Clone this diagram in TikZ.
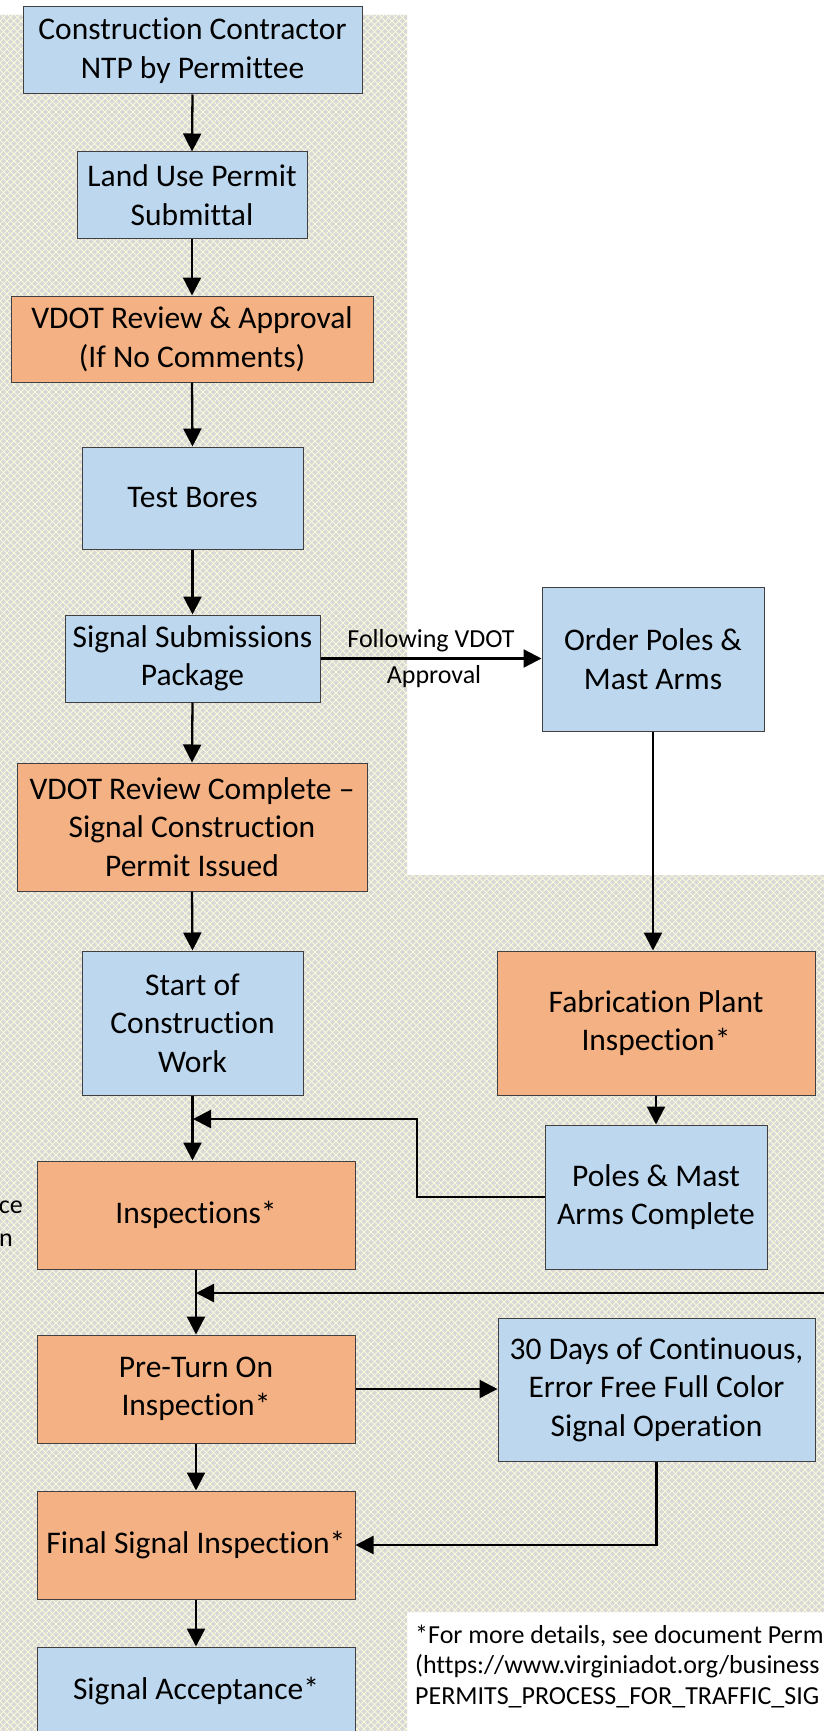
\documentclass[tikz,border=0pt]{standalone}
\usepackage{fontspec}
\setmainfont{Carlito}[Ligatures={NoCommon}]
\usetikzlibrary{arrows.meta,calc}
\definecolor{boxblue}{RGB}{189,215,238}
\definecolor{boxorange}{RGB}{244,177,131}
\definecolor{patgray}{RGB}{216,216,216}
\definecolor{patline}{RGB}{250,250,218}
\definecolor{boxedge}{RGB}{64,64,64}
\tikzset{
  box/.style={draw=boxedge, line width=1pt, align=center, inner sep=0pt, font=\fontsize{31.5}{38.5}\selectfont},
  bluebox/.style={box, fill=boxblue},
  orangebox/.style={box, fill=boxorange},
  arr/.style={line width=2.3pt, -{Triangle[length=18pt,width=18pt]}},
  conn/.style={line width=2.3pt},
  lbl/.style={inner sep=0pt, font=\fontsize{26}{32}\selectfont},
  patstroke/.style={draw=patline, line width=0.9pt},
}
\newcommand{\mybox}[7]{\node[#1, minimum width={#5-#3}, minimum height={#6-#4}] (#2) at ({(#3+#5)/2},{(#4+#6)/2}) {#7};}
\begin{document}
\begin{tikzpicture}[x=1pt,y=-1pt]
\clip (0,0) rectangle (824,1731);
\fill[white] (0,0) rectangle (824,1731);
% patterned background
\begin{scope}
  \clip (0,15) rectangle (407,1731) (407,875) rectangle (824,1612);
  \fill[patgray] (0,0) rectangle (824,1731);
  \foreach \k in {-250,...,120} \draw[patstroke] ({7*\k},0) -- ({7*\k+1731},1731);
  \foreach \k in {0,...,370} \draw[patstroke] ({7*\k},0) -- ({7*\k-1731},1731);
\end{scope}
% boxes
\mybox{bluebox}{c1}{23}{7}{362}{94}{Construction Contractor\\NTP by Permittee}
\mybox{bluebox}{c2}{77}{152}{307}{238}{Land Use Permit\\Submittal}
\mybox{orangebox}{c3}{11}{296}{373}{382}{VDOT Review \& Approval\\(If No Comments)}
\mybox{bluebox}{c4}{82}{447}{303}{549}{Test Bores}
\mybox{bluebox}{c5}{65}{615}{320}{702}{Signal Submissions\\Package}
\mybox{bluebox}{op}{542}{587}{764}{731}{Order Poles \&\\Mast Arms}
\mybox{orangebox}{c7}{17}{763}{367}{891}{VDOT Review Complete –\\Signal Construction\\Permit Issued}
\mybox{bluebox}{c8}{82}{951}{303}{1095}{Start of\\Construction\\Work}
\mybox{orangebox}{fab}{497}{951}{815}{1095}{Fabrication Plant\\Inspection*}
\mybox{bluebox}{pc}{545}{1125}{767}{1269}{Poles \& Mast\\Arms Complete}
\mybox{orangebox}{insp}{37}{1161}{355}{1269}{Inspections*}
\mybox{orangebox}{pre}{37}{1335}{355}{1443}{Pre-Turn On\\Inspection*}
\mybox{bluebox}{d30}{498}{1318}{815}{1461}{30 Days of Continuous,\\Error Free Full Color\\Signal Operation}
\mybox{orangebox}{fin}{37}{1491}{355}{1599}{Final Signal Inspection*}
\mybox{bluebox}{acc}{37}{1647}{355}{1735}{Signal Acceptance*}
% labels and texts
\node[lbl, anchor=base] (l1) at (431,647) {Following VDOT};
\node[lbl, anchor=base] (l2) at (434,683) {Approval};
\node[lbl, anchor=base east] (p1) at (23,1213) {ce};
\node[lbl, anchor=base east] (p2) at (13,1246) {n};
\node[lbl, anchor=base west] (f1) at (415,1643) {*For more details, see document Perm};
\node[lbl, anchor=base west] (f2) at (415,1673) {(https://www.virginiadot.org/business};
\node[lbl, anchor=base west] (f3) at (415,1704) {PERMITS\_PROCESS\_FOR\_TRAFFIC\_SIG};
% helper coordinates
\coordinate (k1) at (417,1119);
\coordinate (m1) at (193,1119);
\coordinate (r2) at (830,1293);
\coordinate (m2) at (196,1293);
% connectors
\draw[arr] (c1.south) -- (c2.north);
\draw[arr] (c2.south) -- (c3.north);
\draw[arr] (c3.south) -- (c4.north);
\draw[arr] (c4.south) -- (c5.north);
\draw[arr] (c5.south) -- (c7.north);
\draw[arr] (c7.south) -- (c8.north);
\draw[arr] (c8.south) -- (c8.south |- insp.north);
\draw[arr] (c5.east) -- (c5.east -| op.west);
\draw[arr] (op.south) -- (op.south |- fab.north);
\draw[arr] (fab.south -| pc.north) -- (pc.north);
\draw[arr] (pc.west) -| (k1) -- (m1);
\draw[arr] (r2) -- (m2);
\draw[arr] (insp.south) -- (pre.north);
\draw[arr] (pre.east) -- (pre.east -| d30.west);
\draw[arr] (pre.south) -- (fin.north);
\draw[arr] (d30.south) |- (fin.east);
\draw[arr] (fin.south) -- (acc.north);
\end{tikzpicture}
\end{document}
